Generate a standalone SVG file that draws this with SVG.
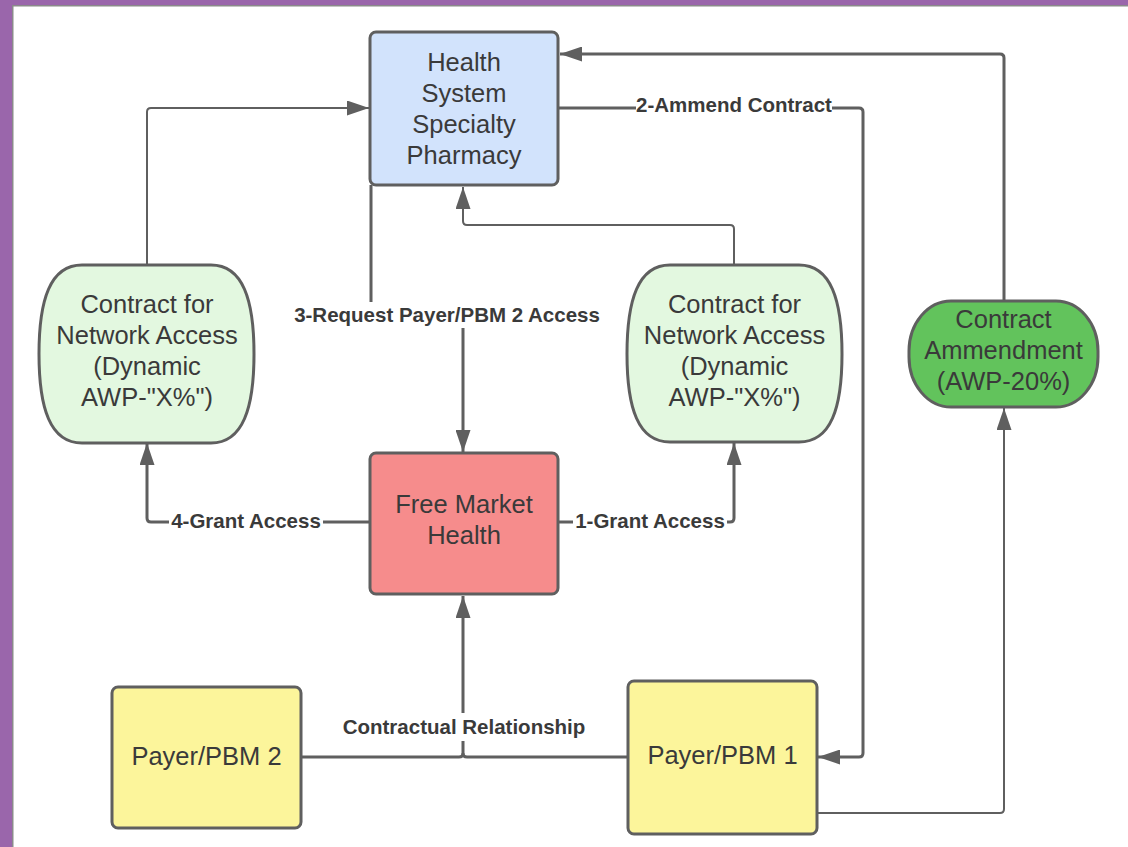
<svg xmlns="http://www.w3.org/2000/svg" width="1128" height="847" viewBox="0 0 1128 847">
<defs>
<style>
.node{stroke:#5f5f5f;stroke-width:3;}
.nt{font-family:"Liberation Sans",Arial,sans-serif;font-size:25.5px;fill:#3a3a3a;text-anchor:middle;}
.lbl{font-family:"Liberation Sans",Arial,sans-serif;font-size:20.5px;font-weight:bold;fill:#3a3a3a;text-anchor:middle;}
.c{fill:none;stroke:#5f5f5f;stroke-linejoin:round;}
.thick{stroke-width:3;}
.thin{stroke-width:2;}
.bg{fill:#ffffff;}
</style>
<marker id="ah" markerUnits="userSpaceOnUse" markerWidth="22" markerHeight="15" refX="22" refY="7.5" orient="auto">
<path d="M0,0 L22,7.5 L0,15 Z" fill="#5f5f5f"/>
</marker>
</defs>
<rect x="0" y="0" width="1128" height="847" fill="#ffffff"/>
<rect x="0" y="0" width="1128" height="5" fill="#9a66ab"/>
<rect x="0" y="0" width="12" height="847" fill="#9a66ab"/>
<path d="M12.75,847 V5.75 H1128" fill="none" stroke="#8a8a8a" stroke-width="1.5"/>

<g id="connectors">
<path class="c thin" d="M147,265 V112 Q147,108 151,108 H369" marker-end="url(#ah)"/>
<path class="c thin" d="M734,265 V229 Q734,225 730,225 H467 Q463,225 463,221 V187" marker-end="url(#ah)"/>
<path class="c thick" d="M1004,300 V58 Q1004,54 1000,54 H560" marker-end="url(#ah)"/>
<path class="c thick" d="M558,108 H859 Q863,108 863,112 V753 Q863,757 859,757 H818" marker-end="url(#ah)"/>
<path class="c thick" d="M371,185 V315 H463 V452" marker-end="url(#ah)"/>
<path class="c thick" d="M370,522 H151 Q147,522 147,518 V443" marker-end="url(#ah)"/>
<path class="c thick" d="M558,522 H730 Q734,522 734,518 V443" marker-end="url(#ah)"/>
<path class="c thick" d="M301,757 H459 Q463,757 463,753 V596" marker-end="url(#ah)"/>
<path class="c thick" d="M628,757 H467 Q463,757 463,753"/>
<path class="c thin" d="M817,813 H1000 Q1004,813 1004,809 V408" marker-end="url(#ah)"/>

<rect class="bg" x="636" y="93" width="196" height="24"/>
<text class="lbl" x="734" y="112">2-Ammend Contract</text>
<rect class="bg" x="290" y="302" width="314" height="26"/>
<text class="lbl" x="447" y="322">3-Request Payer/PBM 2 Access</text>
<rect class="bg" x="169" y="509" width="154" height="26"/>
<text class="lbl" x="246" y="528">4-Grant Access</text>
<rect class="bg" x="573" y="509" width="154" height="26"/>
<text class="lbl" x="650" y="528">1-Grant Access</text>
<rect class="bg" x="340" y="713" width="247" height="28"/>
<text class="lbl" x="464" y="734">Contractual Relationship</text>
</g>

<g id="health-system">
<rect class="node" x="370" y="32" width="188" height="153" rx="6" fill="#d2e3fc"/>
<text class="nt" x="464" y="71">Health</text>
<text class="nt" x="464" y="102">System</text>
<text class="nt" x="464" y="133">Specialty</text>
<text class="nt" x="464" y="164">Pharmacy</text>
</g>

<g id="contract-left">
<path class="node" fill="#e3f8e0" d="M82,265 H211 C243,265 254,300 254,354 C254,408 243,443 211,443 H82 C50,443 39,408 39,354 C39,300 50,265 82,265 Z"/>
<text class="nt" x="147" y="313">Contract for</text>
<text class="nt" x="147" y="344">Network Access</text>
<text class="nt" x="147" y="375">(Dynamic</text>
<text class="nt" x="147" y="406">AWP-"X%")</text>
</g>

<g id="contract-right">
<path class="node" fill="#e3f8e0" d="M670,265 H799 C831,265 842,300 842,354 C842,408 831,442 799,442 H670 C638,442 627,408 627,354 C627,300 638,265 670,265 Z"/>
<text class="nt" x="734.5" y="313">Contract for</text>
<text class="nt" x="734.5" y="344">Network Access</text>
<text class="nt" x="734.5" y="375">(Dynamic</text>
<text class="nt" x="734.5" y="406">AWP-"X%")</text>
</g>

<g id="contract-amendment">
<rect class="node" x="909" y="301" width="189" height="106" rx="42" ry="50" fill="#62c35c"/>
<text class="nt" x="1003.5" y="328">Contract</text>
<text class="nt" x="1003.5" y="359">Ammendment</text>
<text class="nt" x="1003.5" y="390">(AWP-20%)</text>
</g>

<g id="free-market">
<rect class="node" x="370" y="453" width="188" height="141" rx="6" fill="#f68c8c"/>
<text class="nt" x="464" y="513">Free Market</text>
<text class="nt" x="464" y="544">Health</text>
</g>

<g id="payer2">
<rect class="node" x="112" y="687" width="189" height="141" rx="6" fill="#fcf59b"/>
<text class="nt" x="206.5" y="765">Payer/PBM 2</text>
</g>

<g id="payer1">
<rect class="node" x="628" y="681" width="189" height="153" rx="6" fill="#fcf59b"/>
<text class="nt" x="722.5" y="764">Payer/PBM 1</text>
</g>
</svg>
